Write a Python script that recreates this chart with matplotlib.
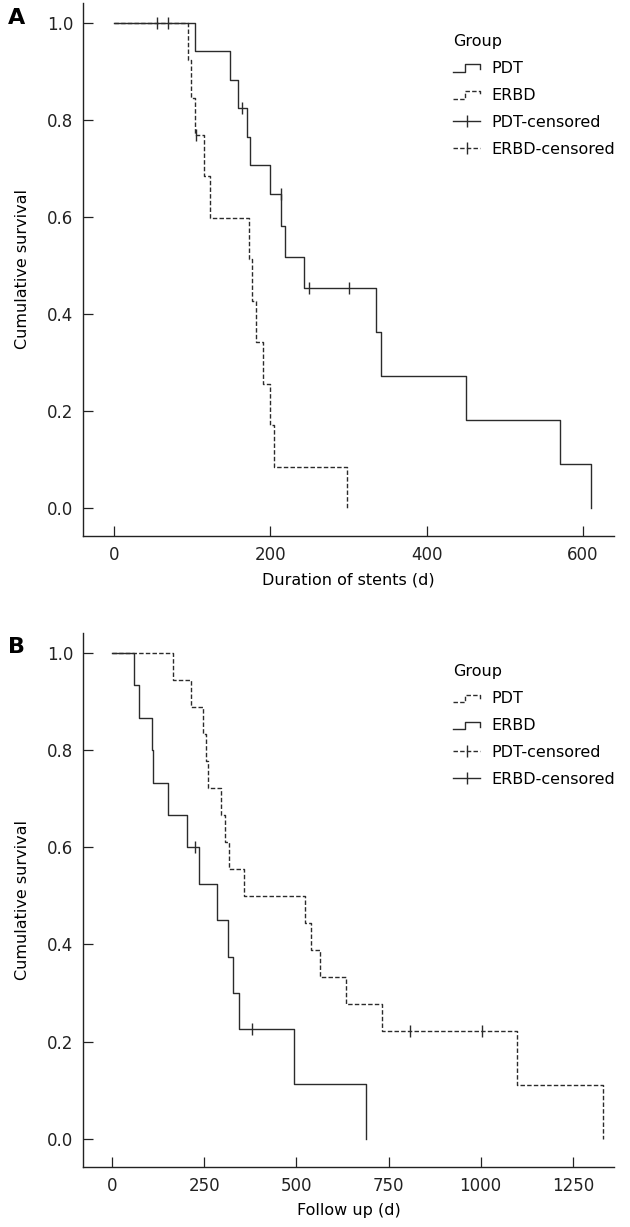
import numpy as np
import matplotlib
matplotlib.use("Agg")
import matplotlib.pyplot as plt
from matplotlib.lines import Line2D
from matplotlib.legend_handler import HandlerBase

# Panel A: duration of stents (days) / cumulative survival
a_pdt_t = [0, 103, 148, 158, 170, 174, 199, 214, 219, 243, 335, 342, 451, 571, 611]
a_pdt_s = [1.0, 0.941, 0.882, 0.824, 0.765, 0.706, 0.647, 0.582, 0.518, 0.453, 0.362, 0.272, 0.181, 0.091, 0.0]
a_pdt_cens = [55, 69, 164, 213, 249, 300]

a_erbd_t = [0, 94, 98, 103, 115, 123, 173, 176, 182, 191, 200, 205, 298]
a_erbd_s = [1.0, 0.923, 0.846, 0.769, 0.684, 0.598, 0.513, 0.427, 0.342, 0.256, 0.171, 0.085, 0.0]
a_erbd_cens = [105]

# Panel B: follow up (days) / cumulative survival
b_pdt_t = [0, 166, 213, 248, 254, 260, 295, 306, 318, 359, 524, 541, 563, 635, 733, 1098, 1333]
b_pdt_s = [1.0, 0.944, 0.889, 0.833, 0.778, 0.722, 0.667, 0.611, 0.556, 0.5, 0.444, 0.389, 0.333, 0.278, 0.222, 0.111, 0.0]
b_pdt_cens = [808, 1005]

b_erbd_t = [0, 59, 73, 107, 111, 153, 202, 237, 284, 315, 327, 345, 494, 689]
b_erbd_s = [1.0, 0.933, 0.867, 0.8, 0.733, 0.667, 0.6, 0.525, 0.45, 0.375, 0.3, 0.225, 0.1125, 0.0]
b_erbd_cens = [225, 379]

a_xticks = [0, 200, 400, 600]
b_xticks = [0, 250, 500, 750, 1000, 1250]
y_ticks = [0.0, 0.2, 0.4, 0.6, 0.8, 1.0]
groups = ["PDT", "ERBD", "PDT-censored", "ERBD-censored"]

plt.rcParams['font.family'] = ['DejaVu Sans']
FS = 11.5
LINE_C = '#2b2b2b'
DASH = (0, (3.2, 1.6))


class StepHandler(HandlerBase):
    # draws the little step glyph used in the legend
    def create_artists(self, legend, orig_handle, xdescent, ydescent, width, height, fontsize, trans):
        x0, y0 = -xdescent, -ydescent
        xs = [x0, x0 + 0.45 * width, x0 + 0.45 * width, x0 + width, x0 + width]
        ys = [y0 + 0.1 * height, y0 + 0.1 * height, y0 + 0.75 * height, y0 + 0.75 * height, y0 + 0.3 * height]
        line = Line2D(xs, ys)
        line.update_from(orig_handle)
        line.set_marker('None')
        line.set_transform(trans)
        return [line]


def cens_y(t, s, c):
    idx = np.searchsorted(t, c, side='right') - 1
    return np.array(s)[idx]


def km_panel(ax, pdt, erbd, pdt_style, erbd_style, xticks, xlim, xlabel):
    lines = []
    for (t, s, c), ls in [(pdt, pdt_style), (erbd, erbd_style)]:
        ln, = ax.step(t, s, where='post', color=LINE_C, lw=1.0, linestyle=ls)
        ax.plot(c, cens_y(t, s, c), linestyle='None', marker='|', ms=8, mew=1.0, color=LINE_C)
        lines.append(ln)
    h_pdt_c = Line2D([], [], color=LINE_C, lw=1.0, linestyle=pdt_style, marker='|', ms=8, mew=1.0)
    h_erbd_c = Line2D([], [], color=LINE_C, lw=1.0, linestyle=erbd_style, marker='|', ms=8, mew=1.0)
    ax.legend([lines[0], lines[1], h_pdt_c, h_erbd_c], groups, title='Group',
              handler_map={lines[0]: StepHandler(), lines[1]: StepHandler()},
              loc='upper left', bbox_to_anchor=(0.697, 0.942), frameon=False,
              fontsize=FS, title_fontsize=FS, alignment='left',
              handlelength=1.7, handletextpad=0.7, labelspacing=0.75,
              borderpad=0, borderaxespad=0, numpoints=1)
    ax.set_xlim(*xlim)
    ax.set_ylim(-0.058, 1.041)
    ax.set_xticks(xticks)
    ax.set_yticks(y_ticks)
    ax.set_yticklabels([f"{v:.1f}" for v in y_ticks])
    ax.spines['top'].set_visible(False)
    ax.spines['right'].set_visible(False)
    for sp in ['left', 'bottom']:
        ax.spines[sp].set_linewidth(1.0)
        ax.spines[sp].set_color('#222222')
    ax.tick_params(direction='in', length=7.5, width=0.9, labelsize=12, pad=7, colors='#222222')
    ax.set_xlabel(xlabel, fontsize=FS, labelpad=6)
    ax.set_ylabel('Cumulative survival', fontsize=FS)
    ax.yaxis.set_label_coords(-0.1, 0.5)


fig = plt.figure(figsize=(6.3, 12.27), dpi=100)
ax_a = fig.add_axes([0.1317, 0.5632, 0.843, 0.4344])
ax_b = fig.add_axes([0.1317, 0.0489, 0.843, 0.4352])

km_panel(ax_a, (a_pdt_t, a_pdt_s, a_pdt_cens), (a_erbd_t, a_erbd_s, a_erbd_cens),
         '-', DASH, a_xticks, (-40, 640), 'Duration of stents (d)')
km_panel(ax_b, (b_pdt_t, b_pdt_s, b_pdt_cens), (b_erbd_t, b_erbd_s, b_erbd_cens),
         DASH, '-', b_xticks, (-79, 1362), 'Follow up (d)')

fig.text(0.012, 1 - 18 / 1227, 'A', fontsize=16, fontweight='bold', va='center')
fig.text(0.012, 1 - 647 / 1227, 'B', fontsize=16, fontweight='bold', va='center')

fig.savefig('out.png', dpi=100)
